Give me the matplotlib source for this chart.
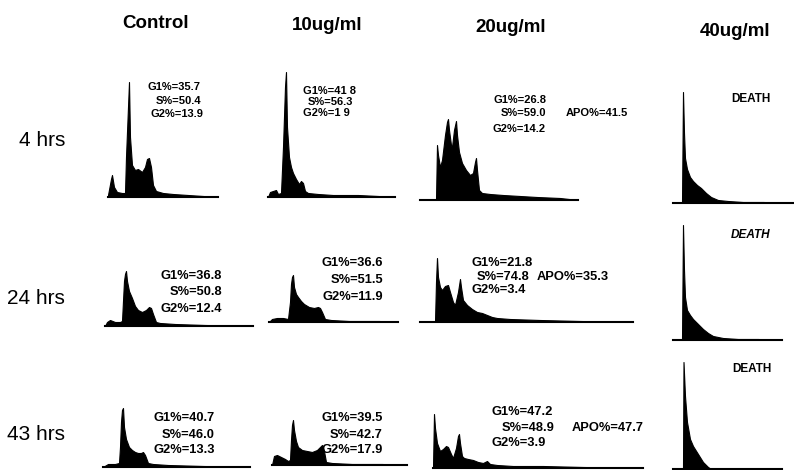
import matplotlib.pyplot as plt

plt.rcParams['font.family'] = ['Liberation Sans', 'DejaVu Sans']

W_PX, H_PX = 794, 470

doses = ["Control", "10ug/ml", "20ug/ml", "40ug/ml"]
times = ["4 hrs", "24 hrs", "43 hrs"]

# DNA content histograms: channel and cell count, one pair per panel
ctrl_4h_ch = [0, 3, 4, 6, 9, 14, 17, 18, 20, 21, 22, 24, 27, 30, 34, 37, 39, 41, 43, 45, 48, 55, 65, 80, 95, 110]
ctrl_4h_n = [2, 18, 22, 10, 5, 4, 4, 40, 90, 115, 60, 32, 27, 28, 25, 30, 38, 39, 30, 12, 6, 4, 3, 2, 1, 0]
d10_4h_ch = [0, 2, 5, 8, 10, 13, 15, 17, 18, 19, 21, 23, 25, 28, 31, 33, 35, 37, 40, 50, 65, 90, 110, 127]
d10_4h_n = [0, 5, 6, 7, 3, 4, 50, 110, 125, 70, 40, 30, 24, 18, 13, 16, 14, 6, 4, 3, 2, 2, 1, 0]
d20_4h_ch = [16, 17, 18, 20, 22, 25, 27, 28, 29, 31, 32, 34, 36, 37, 39, 42, 46, 50, 53, 55, 56, 57, 59, 62, 70, 83, 100, 117, 140, 158]
d20_4h_n = [0, 55, 45, 33, 40, 65, 78, 81, 70, 55, 53, 70, 79, 65, 48, 37, 30, 25, 27, 38, 42, 30, 10, 7, 6, 5, 4, 3, 2, 0]
d40_4h_ch = [9, 10, 11, 12, 14, 17, 20, 24, 28, 33, 38, 45, 55, 70, 90, 122]
d40_4h_n = [0, 111, 70, 45, 34, 26, 22, 18, 15, 10, 6, 3, 2, 1, 1, 0]

ctrl_24h_ch = [0, 2, 5, 10, 15, 17, 18, 19, 20, 21, 22, 24, 27, 30, 33, 37, 41, 44, 46, 48, 51, 55, 70, 100, 148]
ctrl_24h_n = [0, 4, 6, 4, 4, 5, 25, 45, 52, 55, 45, 35, 28, 20, 16, 14, 16, 19, 18, 12, 4, 3, 2, 1, 0]
d10_24h_ch = [0, 3, 8, 14, 19, 21, 22, 23, 24, 25, 27, 29, 32, 35, 40, 45, 49, 51, 53, 56, 62, 80, 110, 129]
d10_24h_n = [0, 3, 4, 4, 3, 20, 38, 45, 47, 35, 28, 25, 21, 18, 15, 14, 15, 14, 10, 3, 2, 1, 1, 0]
d20_24h_ch = [15, 16, 17, 18, 20, 22, 25, 28, 30, 33, 35, 38, 40, 41, 43, 47, 52, 57, 62, 67, 72, 77, 90, 120, 160, 213]
d20_24h_n = [0, 40, 64, 45, 35, 32, 36, 37, 30, 20, 17, 30, 43, 35, 22, 17, 13, 10, 9, 7, 5, 4, 3, 2, 1, 0]
d40_24h_ch = [9, 10, 11, 12, 14, 17, 20, 24, 30, 35, 40, 50, 65, 85, 109]
d40_24h_n = [0, 115, 70, 43, 30, 25, 21, 17, 11, 7, 4, 2, 1, 1, 0]

ctrl_43h_ch = [0, 5, 12, 16, 17, 18, 19, 20, 21, 23, 26, 29, 32, 35, 38, 40, 42, 45, 50, 65, 100, 147]
ctrl_43h_n = [0, 3, 3, 4, 20, 45, 57, 59, 40, 28, 20, 17, 15, 14, 14, 15, 12, 4, 3, 2, 1, 0]
d10_43h_ch = [0, 2, 5, 9, 13, 16, 18, 19, 20, 21, 22, 24, 26, 30, 35, 40, 45, 48, 50, 52, 54, 60, 80, 110, 135]
d10_43h_n = [0, 9, 10, 8, 6, 4, 5, 25, 40, 45, 35, 24, 18, 15, 14, 13, 15, 18, 20, 14, 3, 2, 1, 1, 0]
d20_43h_ch = [0, 1, 2, 4, 7, 10, 13, 15, 18, 20, 23, 25, 26, 27, 29, 31, 35, 40, 45, 50, 54, 57, 64, 80, 110, 150, 210]
d20_43h_n = [0, 54, 40, 25, 17, 19, 22, 21, 14, 10, 20, 32, 34, 25, 12, 10, 9, 8, 6, 5, 7, 4, 3, 2, 2, 1, 0]
d40_43h_ch = [10, 10.5, 12, 14, 17, 20, 25, 30, 35, 38]
d40_43h_n = [0, 107, 73, 47, 30, 23, 15, 7, 2, 0]

hists = [
    [(ctrl_4h_ch, ctrl_4h_n), (d10_4h_ch, d10_4h_n), (d20_4h_ch, d20_4h_n), (d40_4h_ch, d40_4h_n)],
    [(ctrl_24h_ch, ctrl_24h_n), (d10_24h_ch, d10_24h_n), (d20_24h_ch, d20_24h_n), (d40_24h_ch, d40_24h_n)],
    [(ctrl_43h_ch, ctrl_43h_n), (d10_43h_ch, d10_43h_n), (d20_43h_ch, d20_43h_n), (d40_43h_ch, d40_43h_n)],
]

# cell cycle percentages (rows = time, cols = Control, 10, 20 ug/ml)
g1_pct = [["35.7", "41 8", "26.8"], ["36.8", "36.6", "21.8"], ["40.7", "39.5", "47.2"]]
s_pct = [["50.4", "56.3", "59.0"], ["50.8", "51.5", "74.8"], ["46.0", "42.7", "48.9"]]
g2_pct = [["13.9", "1 9", "14.2"], ["12.4", "11.9", "3.4"], ["13.3", "17.9", "3.9"]]
apo_pct = ["41.5", "35.3", "47.7"]

# panel boxes in pixels: left, baseline, width
boxes = [
    [(108, 197, 110), (268, 197, 127), (420, 200, 158), (673, 203, 122)],
    [(105, 326, 148), (269, 322, 129), (420, 322, 213), (673, 340, 109)],
    [(103, 467, 147), (272, 465, 135), (433, 468, 210), (673, 469, 109)],
]
PANEL_H = 135

# text anchors: (x, y, ha) for G1, S, G2 lines, and APO position
txt_pos = [
    [[(201, 87, 'right'), (201, 101, 'right'), (203, 114, 'right')],
     [(303, 91, 'left'), (308, 102, 'left'), (303, 113, 'left')],
     [(546, 100, 'right'), (546, 113, 'right'), (546, 129, 'right')]],
    [[(222, 276, 'right'), (222, 292, 'right'), (222, 309, 'right')],
     [(383, 263, 'right'), (383, 280, 'right'), (383, 297, 'right')],
     [(472, 263, 'left'), (477, 277, 'left'), (472, 290, 'left')]],
    [[(215, 418, 'right'), (215, 435, 'right'), (215, 450, 'right')],
     [(383, 418, 'right'), (383, 435, 'right'), (383, 450, 'right')],
     [(492, 412, 'left'), (502, 428, 'left'), (492, 443, 'left')]],
]
apo_pos = [(566, 113), (537, 277), (572, 428)]
death_pos = [(751, 99, 'normal'), (751, 235, 'italic'), (752, 369, 'normal')]
ann_size = [8, 9.3, 9.3]

header_pos = [(156, 23), (327, 26), (511, 28), (735, 32)]
row_pos = [(65, 141), (65, 299), (65, 435)]


def fx(x):
    return x / W_PX


def fy(y):
    return 1 - y / H_PX


fig = plt.figure(figsize=(W_PX / 100, H_PX / 100), dpi=100)
fig.patch.set_facecolor('white')

for r in range(3):
    for c in range(4):
        left, base, width = boxes[r][c]
        ax = fig.add_axes([fx(left), fy(base), width / W_PX, PANEL_H / H_PX])
        ch, n = hists[r][c]
        ax.fill_between(ch, n, 0, color='black', linewidth=0.8, edgecolor='black')
        ax.set_xlim(0, width)
        ax.set_ylim(0, PANEL_H)
        ax.set_xticks([])
        ax.set_yticks([])
        for s in ['top', 'left', 'right']:
            ax.spines[s].set_visible(False)
        ax.spines['bottom'].set_linewidth(1.5)
        ax.patch.set_alpha(0)

for c, (lab, (x, y)) in enumerate(zip(doses, header_pos)):
    fig.text(fx(x), fy(y), lab, ha='center', va='center', fontsize=13.5, fontweight='bold')

for lab, (x, y) in zip(times, row_pos):
    fig.text(fx(x), fy(y), lab, ha='right', va='center', fontsize=15)

for r in range(3):
    for c in range(3):
        lines = ["G1%=" + g1_pct[r][c], "S%=" + s_pct[r][c], "G2%=" + g2_pct[r][c]]
        for t, (x, y, ha) in zip(lines, txt_pos[r][c]):
            fig.text(fx(x), fy(y), t, ha=ha, va='center', fontsize=ann_size[r], fontweight='bold')
    ax_, ay_ = apo_pos[r]
    fig.text(fx(ax_), fy(ay_), "APO%=" + apo_pct[r], ha='left', va='center',
             fontsize=ann_size[r], fontweight='bold')
    dx, dy, st = death_pos[r]
    fig.text(fx(dx), fy(dy), "DEATH", ha='center', va='center', fontsize=8.5,
             fontweight='bold', fontstyle=st)

fig.savefig('out.png', dpi=100, facecolor='white')
